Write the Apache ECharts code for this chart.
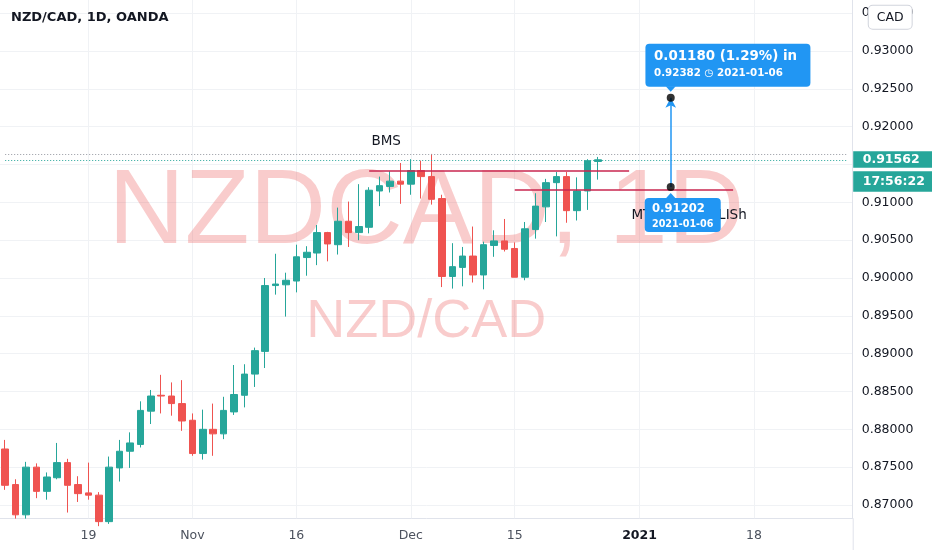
<!DOCTYPE html>
<html><head><meta charset="utf-8">
<script src="https://cdn.jsdelivr.net/npm/echarts@6/dist/echarts.min.js"></script>
<style>html,body{margin:0;padding:0;background:#fff}#c{width:932px;height:550px}</style>
</head><body><div id="c"></div>
<script>
const dates = ['2020-10-07','2020-10-08','2020-10-09','2020-10-12','2020-10-13','2020-10-14','2020-10-15','2020-10-16',
'2020-10-19','2020-10-20','2020-10-21','2020-10-22','2020-10-23','2020-10-26','2020-10-27','2020-10-28','2020-10-29','2020-10-30',
'2020-11-02','2020-11-03','2020-11-04','2020-11-05','2020-11-06','2020-11-09','2020-11-10','2020-11-11','2020-11-12','2020-11-13',
'2020-11-16','2020-11-17','2020-11-18','2020-11-19','2020-11-20','2020-11-23','2020-11-24','2020-11-25','2020-11-26','2020-11-27',
'2020-11-30','2020-12-01','2020-12-02','2020-12-03','2020-12-04','2020-12-07','2020-12-08','2020-12-09','2020-12-10','2020-12-11',
'2020-12-14','2020-12-15','2020-12-16','2020-12-17','2020-12-18','2020-12-21','2020-12-22','2020-12-23','2020-12-24','2020-12-28',
'2020-12-29','2020-12-30','2020-12-31','2021-01-01','2021-01-04','2021-01-05','2021-01-06','2021-01-07','2021-01-08',
'2021-01-11','2021-01-12','2021-01-13','2021-01-14','2021-01-15','2021-01-18','2021-01-19','2021-01-20','2021-01-21','2021-01-22',
'2021-01-25','2021-01-26','2021-01-27','2021-01-28','2021-01-29'];

const opens = [0.8774,0.8727,0.8687,0.8750,0.8718,0.8736,0.8756,0.8727,0.8716,0.8713,
0.8678,0.8749,0.8771,0.8780,0.8824,0.8845,0.8844,0.8834,0.8812,0.8768,
0.8800,0.8794,0.8823,0.8845,0.8873,0.8903,0.8990,0.8991,0.8996,0.9027,
0.9033,0.9060,0.9044,0.9075,0.9060,0.9067,0.9115,0.9121,0.9128,0.9124,
0.9142,0.9134,0.9105,0.9002,0.9014,0.9029,0.9004,0.9043,0.9049,0.9039,
0.9001,0.9064,0.9094,0.9126,0.9134,0.9089,0.9115,0.9154];
const closes = [0.8726,0.8687,0.8750,0.8718,0.8737,0.8756,0.8726,0.8715,0.8713,0.8678,
0.8750,0.8771,0.8782,0.8825,0.8844,0.8844,0.8834,0.8811,0.8768,0.8800,
0.8794,0.8825,0.8846,0.8873,0.8904,0.8990,0.8992,0.8997,0.9028,0.9034,
0.9060,0.9045,0.9075,0.9060,0.9068,0.9116,0.9122,0.9128,0.9124,0.9142,
0.9134,0.9104,0.9002,0.9015,0.9029,0.9004,0.9044,0.9049,0.9038,0.9001,
0.9065,0.9095,0.9126,0.9134,0.9089,0.9115,0.9155,0.91562];
const lows = [0.8720,0.8682,0.8682,0.8709,0.8707,0.8734,0.8690,0.8704,0.8707,0.8672,
0.8675,0.8731,0.8749,0.8776,0.8807,0.8821,0.8818,0.8798,0.8765,0.8760,
0.8765,0.8787,0.8819,0.8829,0.8856,0.8881,0.8978,0.8949,0.8981,0.9003,
0.9017,0.9022,0.9031,0.9041,0.9050,0.9059,0.9095,0.9113,0.9098,0.9110,
0.9105,0.9097,0.8988,0.8986,0.8989,0.8994,0.8985,0.9028,0.9035,0.9001,
0.8997,0.9052,0.9074,0.9055,0.9073,0.9076,0.9090,0.9130];
const highs = [0.8786,0.8734,0.8757,0.8755,0.8743,0.8782,0.8761,0.8738,0.8756,0.8717,
0.8764,0.8786,0.8796,0.8837,0.8852,0.8872,0.8862,0.8865,0.8821,0.8826,
0.8834,0.8843,0.8885,0.8886,0.8908,0.9000,0.9032,0.9007,0.9044,0.9042,
0.9070,0.9061,0.9093,0.9101,0.9124,0.9120,0.9134,0.9141,0.9152,0.9157,
0.9155,0.9164,0.9110,0.9046,0.9041,0.9068,0.9048,0.9063,0.9078,0.9047,
0.9074,0.9112,0.9131,0.9140,0.9140,0.9133,0.9157,0.9160];

const yTicks = [0.870,0.875,0.880,0.885,0.890,0.895,0.900,0.905,0.910,0.915,0.920,0.925,0.930,0.935];
const xLabelDates = ['2020-10-19','2020-11-02','2020-11-16','2020-12-01','2020-12-15','2021-01-01','2021-01-18'];
const xLabelTexts = ['19','Nov','16','Dec','15','2021','18'];

const lastPrice = 0.91562;
const upperPriceLine = 0.91635;
const countdown = '17:56:22';
const bmsLine = {from:'2020-11-25', to:'2020-12-31', level:0.91418, text:'BMS'};
const mtfLine = {from:'2020-12-15', to:'2021-01-14', level:0.91172};
const proj = {date:'2021-01-06', from:0.91202, to:0.92382, change:'0.01180 (1.29%) in'};

const yMin = 0.86824, yMax = 0.93674;
const FONT = 'DejaVu Sans';
const UP = '#26a69a', DOWN = '#ef5350', LINE_RED = '#c9264f', BLUE = '#2196f3';

const candles = opens.map((o,i)=>[o, closes[i], lows[i], highs[i]]);

const chart = echarts.init(document.getElementById('c'), null, {renderer:'canvas'});
const option = {
  animation:false,
  backgroundColor:'#ffffff',
  title:{text:'NZD/CAD, 1D, OANDA', left:11, top:11, padding:0,
    textStyle:{fontFamily:FONT, fontWeight:'bold', fontSize:13, color:'#131722'}},
  grid:{left:-1.6, right:79.3, top:0, bottom:31.7, containLabel:false},
  xAxis:{type:'category', data:dates, boundaryGap:true,
    axisLine:{show:true, lineStyle:{color:'#e0e3eb'}},
    axisTick:{show:false},
    splitLine:{show:false},
    axisLabel:{
      interval:(idx, val)=>xLabelDates.indexOf(val) >= 0,
      formatter:(val)=>{ const k = xLabelDates.indexOf(val); const t = xLabelTexts[k]; return t === '2021' ? '{b|' + t + '}' : t; },
      color:'#4c525e', fontFamily:FONT, fontSize:12.5, margin:11,
      rich:{b:{fontWeight:'bold', fontFamily:FONT, fontSize:12.5, color:'#131722'}}
    }},
  yAxis:{type:'value', position:'right', min:yMin, max:yMax, scale:true,
    axisLine:{show:true, lineStyle:{color:'#e0e3eb'}},
    axisTick:{show:false, customValues:yTicks},
    axisLabel:{customValues:yTicks, formatter:(v)=>v.toFixed(5), color:'#131722', fontFamily:FONT, fontSize:12.5, margin:9},
    splitLine:{show:true, lineStyle:{color:'#f0f2f5', width:1}}},
  series:[
    {type:'candlestick', data:candles, barWidth:7, z:2,
      itemStyle:{color:UP, color0:DOWN, borderColor:UP, borderColor0:DOWN, borderWidth:1},
      markLine:{silent:true, symbol:'none', z:1, animation:false, label:{show:false},
        lineStyle:{color:'#f0f2f5', type:'solid', width:1},
        data:xLabelDates.map(d=>({xAxis:d}))}
    },
    {type:'scatter', z:6, symbol:'circle', symbolSize:8, silent:true,
      itemStyle:{color:'#000000'},
      data:[[proj.date, proj.from],[proj.date, proj.to]],
      markLine:{silent:true, z:5, animation:false, label:{show:false}, symbol:'none',
        data:[
          [{coord:[dates[0], upperPriceLine], lineStyle:{color:'#9598a1', type:[1,2], width:1}}, {coord:[dates[dates.length-1], upperPriceLine]}],
          [{coord:[dates[0], lastPrice], lineStyle:{color:UP, type:[1,2], width:1}}, {coord:[dates[dates.length-1], lastPrice]}],
          [{coord:[bmsLine.from, bmsLine.level], lineStyle:{color:LINE_RED, type:'solid', width:1.5}}, {coord:[bmsLine.to, bmsLine.level]}],
          [{coord:[mtfLine.from, mtfLine.level], lineStyle:{color:LINE_RED, type:'solid', width:1.5}}, {coord:[mtfLine.to, mtfLine.level]}],
          [{coord:[proj.date, proj.from], symbol:'none', lineStyle:{color:BLUE, type:'solid', width:1.5}},
           {coord:[proj.date, proj.to], symbol:'arrow', symbolSize:[8,10]}]
        ]}
    }
  ]
};
chart.setOption(option);

const px = (d, v) => chart.convertToPixel({gridIndex:0}, [dates.indexOf(d), v]);
const gr = chart.getModel().getComponent('grid',0).coordinateSystem.getRect();
const cx = gr.x + gr.width/2, cy = gr.y + gr.height/2;
const axisX = gr.x + gr.width;

const pTop = px(proj.date, proj.to);
const pBot = px(proj.date, proj.from);
const bms = px(bmsLine.from, bmsLine.level);
const yLast = px(dates[0], lastPrice)[1];
const wm = 'rgba(236, 86, 86, 0.30)';
const els = [
  {type:'text', z:1, silent:true, style:{text:'NZDCAD, 1D', x:cx, y:cy-45, align:'center', verticalAlign:'middle',
    fontFamily:'Liberation Sans', fontSize:106, fill:wm}},
  {type:'text', z:1, silent:true, style:{text:'NZD/CAD', x:cx, y:cy+63, align:'center', verticalAlign:'middle',
    fontFamily:'Liberation Sans', fontSize:54, fill:wm}},
  {type:'text', z:20, silent:true, style:{text:bmsLine.text, x:bms[0]+17, y:bms[1]-29, align:'center', verticalAlign:'middle',
    fontFamily:FONT, fontSize:13.5, fill:'#131722'}},
  {type:'text', z:20, silent:true, style:{text:'{a|MT}{b|F BUL}{c|LISh}', x:pBot[0]-39.3, y:pBot[1]+28, align:'left', verticalAlign:'middle',
    fontFamily:FONT, fontSize:13.5, fill:'#131722',
    rich:{a:{fontFamily:FONT, fontSize:13.5, fill:'#131722'}, b:{fontFamily:FONT, fontSize:13.5, fill:'#131722', width:66.8}, c:{fontFamily:FONT, fontSize:13.5, fill:'#131722'}}}},
  // top projection box
  {type:'rect', z:30, silent:true, shape:{x:pTop[0]-25.3, y:pTop[1]-54, width:165, height:43, r:4}, style:{fill:BLUE}},
  {type:'polygon', z:30, silent:true, shape:{points:[[pTop[0]-5,pTop[1]-11.5],[pTop[0]+5,pTop[1]-11.5],[pTop[0],pTop[1]-6]]}, style:{fill:BLUE}},
  {type:'text', z:31, silent:true, style:{text:proj.change, x:pTop[0]-16.7, y:pTop[1]-41.3, align:'left', verticalAlign:'middle',
    fontFamily:FONT, fontWeight:'bold', fontSize:13.4, fill:'#ffffff'}},
  {type:'text', z:31, silent:true, style:{text:proj.to.toFixed(5) + ' \u25F7 ' + proj.date, x:pTop[0]-16.7, y:pTop[1]-24, align:'left', verticalAlign:'middle',
    fontFamily:FONT, fontWeight:'bold', fontSize:10.3, fill:'#ffffff'}},
  // bottom projection box
  {type:'rect', z:30, silent:true, shape:{x:pBot[0]-26, y:pBot[1]+11, width:76, height:34, r:4}, style:{fill:BLUE}},
  {type:'polygon', z:30, silent:true, shape:{points:[[pBot[0]-5,pBot[1]+11.5],[pBot[0]+5,pBot[1]+11.5],[pBot[0],pBot[1]+6]]}, style:{fill:BLUE}},
  {type:'text', z:31, silent:true, style:{text:proj.from.toFixed(5), x:pBot[0]-18.7, y:pBot[1]+22.3, align:'left', verticalAlign:'middle',
    fontFamily:FONT, fontWeight:'bold', fontSize:11.6, fill:'#ffffff'}},
  {type:'text', z:31, silent:true, style:{text:proj.date, x:pBot[0]-18.7, y:pBot[1]+37, align:'left', verticalAlign:'middle',
    fontFamily:FONT, fontWeight:'bold', fontSize:9.6, fill:'#ffffff'}},
  // right price scale labels
  {type:'rect', z:40, silent:true, shape:{x:axisX+0.5, y:yLast-9, width:80, height:43}, style:{fill:'#ffffff'}},
  {type:'rect', z:41, silent:true, shape:{x:axisX+0.5, y:yLast-8.5, width:80, height:16.5}, style:{fill:UP}},
  {type:'text', z:42, silent:true, style:{text:lastPrice.toFixed(5), x:axisX+10, y:yLast-0.3, align:'left', verticalAlign:'middle',
    fontFamily:FONT, fontWeight:'bold', fontSize:12.5, fill:'#ffffff'}},
  {type:'rect', z:41, silent:true, shape:{x:axisX+0.5, y:yLast+11.5, width:80, height:20.5}, style:{fill:UP}},
  {type:'text', z:42, silent:true, style:{text:countdown, x:axisX+10, y:yLast+21.8, align:'left', verticalAlign:'middle',
    fontFamily:FONT, fontWeight:'bold', fontSize:12.5, fill:'#ffffff'}},
  // currency box
  {type:'text', z:42, silent:true, style:{text:'CAD', x:axisX+37.5, y:17.3, align:'center', verticalAlign:'middle',
    fontFamily:FONT, fontSize:12.5, fill:'#131722', backgroundColor:'#ffffff', borderColor:'#d1d4dc', borderWidth:1,
    borderRadius:4, padding:[4,8], lineHeight:15}},
  {type:'line', z:5, silent:true, shape:{x1:axisX+0.5, y1:gr.y+gr.height, x2:axisX+0.5, y2:550}, style:{stroke:'#e0e3eb', lineWidth:1}}
];
chart.setOption({graphic:{elements:els}});
</script>
</body></html>
